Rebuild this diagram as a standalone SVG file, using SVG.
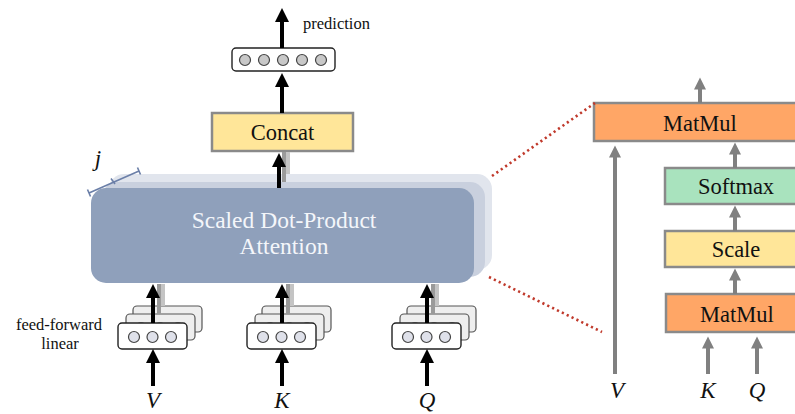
<svg xmlns="http://www.w3.org/2000/svg" width="795" height="414" viewBox="0 0 795 414">
  <defs>
    <style>
      .serif { font-family: "Liberation Serif", "Times New Roman", serif; }
      .lbl { font-family: "Liberation Serif", "Times New Roman", serif; font-size: 22.5px; fill: #111; text-anchor: middle; }
      .var { font-family: "Liberation Serif", "Times New Roman", serif; font-size: 23px; font-style: italic; fill: #111; text-anchor: middle; }
      .note { font-family: "Liberation Serif", "Times New Roman", serif; font-size: 16.5px; fill: #111; }
      .op { stroke: #8a8a8a; stroke-width: 2.5; }
      .blk { stroke: #000; stroke-width: 4; fill: none; }
      .gry { stroke: #808080; stroke-width: 4; fill: none; }
      .ghost1 { stroke: #9a9a9a; stroke-width: 4; fill: none; }
      .ghost2 { stroke: #c4c4c4; stroke-width: 4; fill: none; }
      .ff-front { fill: #ffffff; stroke: #222; stroke-width: 1.4; }
      .ff-back { fill: #eeeeee; stroke: #555; stroke-width: 1.2; }
      .dot-front { fill: #dfe1ea; stroke: #444; stroke-width: 1.2; }
      .dot-back { fill: #d8d8d8; stroke: #888; stroke-width: 1; }
      .zoom { stroke: #c0392b; stroke-width: 2.6; stroke-dasharray: 2.2 3.2; fill: none; }
    </style>
    <marker id="headBlack" markerUnits="userSpaceOnUse" markerWidth="15" markerHeight="15" refX="1" refY="7" orient="auto">
      <path d="M0,0 L14,7 L0,14 z" fill="#000"/>
    </marker>
    <marker id="headGray" markerUnits="userSpaceOnUse" markerWidth="13" markerHeight="13" refX="0.5" refY="6" orient="auto">
      <path d="M0,0 L12,6 L0,12 z" fill="#808080"/>
    </marker>
    <!-- one feed-forward projection: three stacked heads -->
    <g id="ffStack">
      <rect class="ff-back" x="15" y="-17" width="69" height="26" rx="4"/>
      <circle class="dot-back" cx="30" cy="-3" r="5.5"/>
      <circle class="dot-back" cx="49" cy="-3" r="5.5"/>
      <circle class="dot-back" cx="67" cy="-3" r="5.5"/>
      <rect class="ff-back" x="8" y="-9" width="69" height="26" rx="4"/>
      <circle class="dot-back" cx="23" cy="5" r="5.5"/>
      <circle class="dot-back" cx="42" cy="5" r="5.5"/>
      <circle class="dot-back" cx="60" cy="5" r="5.5"/>
      <rect class="ff-front" x="0" y="0" width="69" height="26" rx="4"/>
      <circle class="dot-front" cx="16" cy="14" r="5.5"/>
      <circle class="dot-front" cx="34.5" cy="14" r="5.5"/>
      <circle class="dot-front" cx="53" cy="14" r="5.5"/>
    </g>
  </defs>

  <rect width="795" height="414" fill="#ffffff"/>

  <!-- attention heads (stacked) -->
  <g id="attention">
    <rect x="109" y="174" width="383" height="96" rx="15" fill="#e1e5ed"/>
    <rect x="102" y="182" width="383" height="95" rx="15" fill="#c9d0de"/>
    <rect x="91" y="188" width="383" height="95" rx="15" fill="#8fa0bb"/>
    <text class="serif" x="284" y="228" font-size="23.5" fill="#f4f6fa" text-anchor="middle">Scaled Dot-Product</text>
    <text class="serif" x="284" y="254" font-size="23.5" fill="#f4f6fa" text-anchor="middle">Attention</text>
  </g>

  <!-- head count marker -->
  <g id="heads-j">
    <path d="M89,193 L139,171 M87.5,189.5 L90.5,196.5 M137.5,167.5 L140.5,174.5 M111,178.5 L115,184" stroke="#6b7fa8" stroke-width="1.6" fill="none"/>
    <text class="var" x="98" y="166" font-size="24">j</text>
  </g>

  <g id="concat">
    <rect x="212" y="113" width="141" height="38" fill="#ffe699" class="op"/>
    <text class="lbl" x="282.5" y="139.5">Concat</text>
  </g>

  <g id="output">
    <rect x="232" y="48" width="103" height="23" rx="4" fill="#ffffff" stroke="#222" stroke-width="1.4"/>
    <circle cx="245" cy="60" r="5.5" fill="#c8c8c8" stroke="#444" stroke-width="1.2"/>
    <circle cx="264" cy="60" r="5.5" fill="#c8c8c8" stroke="#444" stroke-width="1.2"/>
    <circle cx="283" cy="60" r="5.5" fill="#c8c8c8" stroke="#444" stroke-width="1.2"/>
    <circle cx="302" cy="60" r="5.5" fill="#c8c8c8" stroke="#444" stroke-width="1.2"/>
    <circle cx="321" cy="60" r="5.5" fill="#c8c8c8" stroke="#444" stroke-width="1.2"/>
    <text class="note" x="303" y="29" font-size="17">prediction</text>
  </g>

  <g id="ff-V"><use href="#ffStack" x="118" y="323"/></g>
  <g id="ff-K"><use href="#ffStack" x="247" y="323"/></g>
  <g id="ff-Q"><use href="#ffStack" x="392" y="323"/></g>

  <g id="ff-label">
    <text class="note" x="59" y="330" text-anchor="middle">feed-forward</text>
    <text class="note" x="60" y="349" text-anchor="middle">linear</text>
  </g>

  <g id="inputs">
    <text class="var" x="153" y="408">V</text>
    <text class="var" x="282" y="408">K</text>
    <text class="var" x="427" y="408">Q</text>
  </g>

  <!-- expanded view of one attention head -->
  <g id="matmul-out">
    <rect x="594" y="103" width="212" height="38" fill="#ffa666" class="op"/>
    <text class="lbl" x="700" y="131">MatMul</text>
  </g>
  <g id="softmax">
    <rect x="665" y="168" width="142" height="36" fill="#a9e3be" class="op"/>
    <text class="lbl" x="736" y="194">Softmax</text>
  </g>
  <g id="scale">
    <rect x="665" y="231" width="142" height="36" fill="#ffe699" class="op"/>
    <text class="lbl" x="736" y="257">Scale</text>
  </g>
  <g id="matmul-in">
    <rect x="666" y="294" width="142" height="38" fill="#ffa666" class="op"/>
    <text class="lbl" x="737" y="322">MatMul</text>
  </g>
  <g id="head-inputs">
    <text class="var" x="617" y="398">V</text>
    <text class="var" x="708" y="398">K</text>
    <text class="var" x="757" y="398">Q</text>
  </g>

  <g id="connectors">
    <!-- zoom guides -->
    <line class="zoom" x1="492" y1="176" x2="595" y2="103"/>
    <line class="zoom" x1="489" y1="277" x2="602" y2="332"/>

    <!-- heads into concat -->
    <line class="ghost2" x1="288" y1="174" x2="288" y2="152"/>
    <line class="ghost1" x1="284" y1="182" x2="284" y2="152"/>
    <line class="blk" x1="279" y1="188" x2="279" y2="166" marker-end="url(#headBlack)"/>

    <line class="blk" x1="282" y1="113" x2="282" y2="86" marker-end="url(#headBlack)"/>
    <line class="blk" x1="282" y1="48" x2="282" y2="21" marker-end="url(#headBlack)"/>

    <!-- projections into attention -->
    <line class="ghost2" x1="163" y1="306" x2="163" y2="284"/>
    <line class="ghost1" x1="159" y1="314" x2="159" y2="284"/>
    <line class="blk" x1="153" y1="323" x2="153" y2="297" marker-end="url(#headBlack)"/>
    <line class="ghost2" x1="292" y1="306" x2="292" y2="284"/>
    <line class="ghost1" x1="288" y1="314" x2="288" y2="284"/>
    <line class="blk" x1="282" y1="323" x2="282" y2="297" marker-end="url(#headBlack)"/>
    <line class="ghost2" x1="437" y1="306" x2="437" y2="284"/>
    <line class="ghost1" x1="433" y1="314" x2="433" y2="284"/>
    <line class="blk" x1="427" y1="323" x2="427" y2="297" marker-end="url(#headBlack)"/>

    <!-- V K Q into projections -->
    <line class="blk" x1="153" y1="386" x2="153" y2="362" marker-end="url(#headBlack)"/>
    <line class="blk" x1="282" y1="386" x2="282" y2="362" marker-end="url(#headBlack)"/>
    <line class="blk" x1="427" y1="386" x2="427" y2="362" marker-end="url(#headBlack)"/>

    <!-- head internals -->
    <line class="gry" x1="700" y1="103" x2="700" y2="89" marker-end="url(#headGray)"/>
    <line class="gry" x1="735" y1="168" x2="735" y2="154" marker-end="url(#headGray)"/>
    <line class="gry" x1="735" y1="231" x2="735" y2="217" marker-end="url(#headGray)"/>
    <line class="gry" x1="735" y1="294" x2="735" y2="280" marker-end="url(#headGray)"/>
    <line class="gry" x1="708" y1="374" x2="708" y2="348" marker-end="url(#headGray)"/>
    <line class="gry" x1="757" y1="374" x2="757" y2="348" marker-end="url(#headGray)"/>
    <line class="gry" x1="615" y1="374" x2="615" y2="157" marker-end="url(#headGray)"/>
  </g>
</svg>
